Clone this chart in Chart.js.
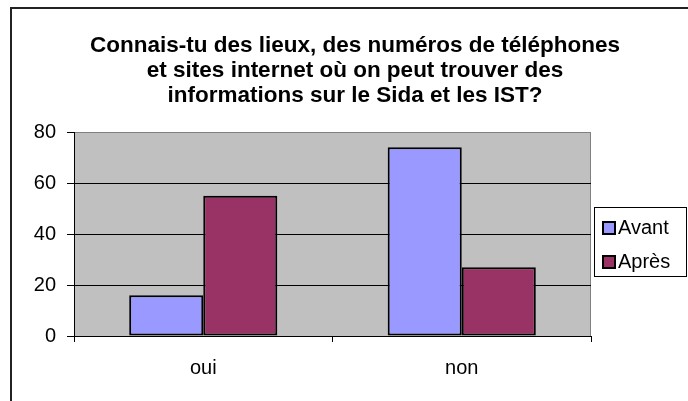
<!DOCTYPE html>
<html>
<head>
<meta charset="utf-8">
<script src="https://cdn.jsdelivr.net/npm/chart.js@4"></script>
<style>
  html, body { margin: 0; padding: 0; background: #fff; }
  canvas { display: block; }
</style>
</head>
<body>
<canvas id="chart" width="688" height="401"></canvas>
<script>
// data
const categories = ['oui', 'non'];
const seriesNames = ['Avant', 'Après'];
const avantValues = [16, 74];
const apresValues = [55, 27];
const seriesColors = ['#9999FF', '#993366'];
const titleLines = [
  'Connais-tu des lieux, des numéros de téléphones',
  'et sites internet où on peut trouver des',
  'informations sur le Sida et les IST?'
];
const yMax = 80;
const yStep = 20;

const FONT = '"Liberation Sans", Arial, sans-serif';

// frame, plot background, title and legend (Excel look)
const excelLook = {
  id: 'excelLook',
  beforeDraw(chart) {
    const ctx = chart.ctx;
    const area = chart.chartArea;
    ctx.save();
    ctx.fillStyle = '#fff';
    ctx.fillRect(0, 0, chart.width, chart.height);

    // outer frame, cut off on the right and bottom
    ctx.strokeStyle = '#222';
    ctx.lineWidth = 2;
    ctx.beginPath();
    ctx.moveTo(11, chart.height + 5);
    ctx.lineTo(11, 8);
    ctx.lineTo(chart.width + 5, 8);
    ctx.stroke();

    // plot area
    ctx.fillStyle = '#C0C0C0';
    ctx.fillRect(area.left, area.top, area.right - area.left, area.bottom - area.top);
    ctx.strokeStyle = '#808080';
    ctx.lineWidth = 1;
    ctx.strokeRect(area.left + 0.5, area.top + 0.5, area.right - area.left - 1, area.bottom - area.top);
    ctx.restore();
  },
  afterDraw(chart) {
    const ctx = chart.ctx;
    ctx.save();

    // title
    ctx.fillStyle = '#000';
    ctx.font = 'bold 22.5px ' + FONT;
    ctx.textAlign = 'center';
    ctx.textBaseline = 'alphabetic';
    titleLines.forEach((line, i) => {
      ctx.fillText(line, 355, 52 + i * 25);
    });

    // legend
    ctx.strokeStyle = '#000';
    ctx.lineWidth = 1;
    ctx.strokeRect(594.5, 207.5, 92, 69);
    ctx.font = '20px ' + FONT;
    ctx.textAlign = 'left';
    chart.data.datasets.forEach((ds, i) => {
      const y = 222 + i * 34;
      ctx.fillStyle = ds.backgroundColor;
      ctx.fillRect(603, y, 12, 12);
      ctx.lineWidth = 2;
      ctx.strokeRect(603, y, 12, 12);
      ctx.fillStyle = '#000';
      ctx.fillText(ds.label, 618, y + 12);
    });
    ctx.restore();
  }
};

new Chart(document.getElementById('chart'), {
  type: 'bar',
  data: {
    labels: categories,
    datasets: [
      {
        label: seriesNames[0],
        data: avantValues,
        backgroundColor: seriesColors[0]
      },
      {
        label: seriesNames[1],
        data: apresValues,
        backgroundColor: seriesColors[1]
      }
    ]
  },
  options: {
    responsive: false,
    animation: false,
    layout: {
      padding: { left: 0, right: 97, top: 132, bottom: 20 }
    },
    datasets: {
      bar: {
        categoryPercentage: 0.573,
        barPercentage: 1.0,
        borderColor: '#000',
        borderWidth: 2,
        borderSkipped: false
      }
    },
    plugins: {
      legend: { display: false },
      title: { display: false },
      tooltip: { enabled: false }
    },
    scales: {
      x: {
        afterFit(scale) { scale.height = 45; },
        grid: {
          offset: true,
          drawOnChartArea: false,
          tickLength: 6,
          color: '#000'
        },
        border: { color: '#000', width: 1 },
        ticks: {
          color: '#000',
          font: { family: FONT, size: 20 },
          padding: 14
        }
      },
      y: {
        min: 0,
        max: yMax,
        afterFit(scale) { scale.width = 74; },
        grid: {
          color: ctx => (ctx.tick && ctx.tick.value === yMax) ? '#808080' : '#000',
          tickColor: '#000',
          tickLength: 7
        },
        border: { color: '#000', width: 1 },
        ticks: {
          stepSize: yStep,
          color: '#000',
          font: { family: FONT, size: 20 },
          padding: 11
        }
      }
    }
  },
  plugins: [excelLook]
});
</script>
</body>
</html>
